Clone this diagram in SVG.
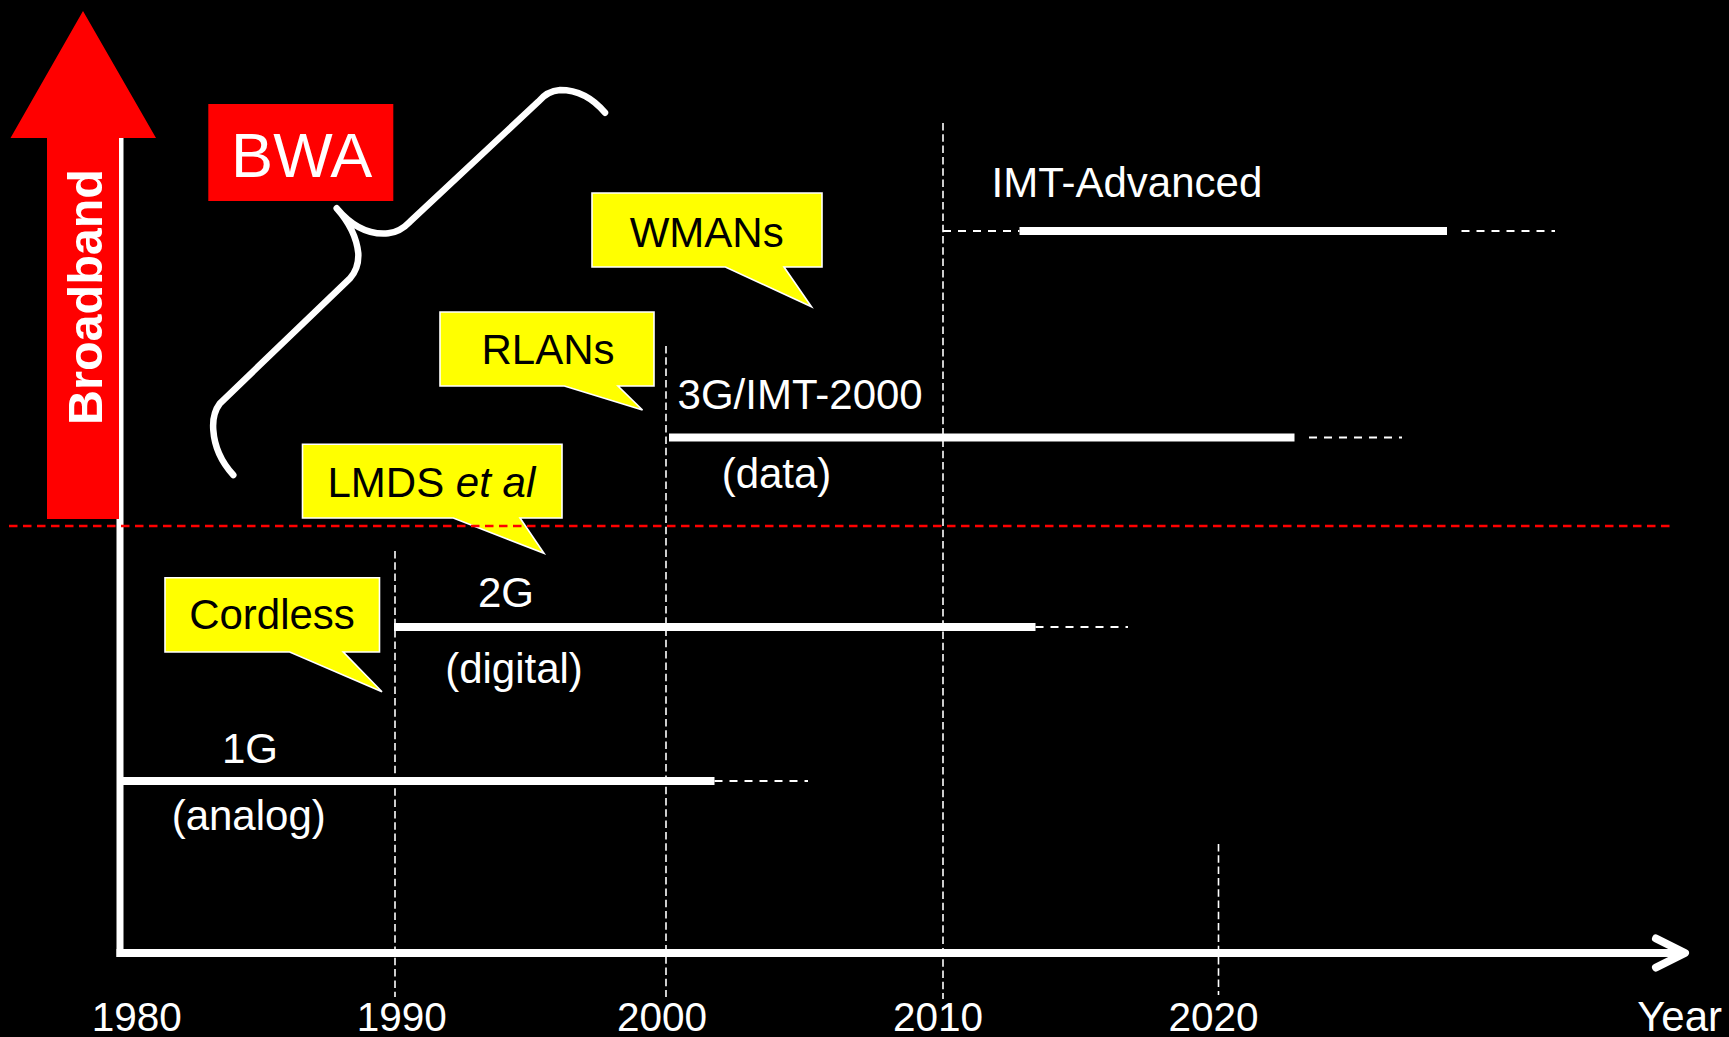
<svg xmlns="http://www.w3.org/2000/svg" width="1729" height="1037" viewBox="0 0 1729 1037">
  <style>
    .lbl { font-family: "Liberation Sans", Arial, sans-serif; font-size: 42px; fill: #ffffff; }
    .yr { font-family: "Liberation Sans", Arial, sans-serif; font-size: 40.5px; fill: #ffffff; text-anchor: middle; }
    .co { fill: #ffff00; stroke: #ffffff; stroke-width: 1.6; stroke-linejoin: miter; }
    .cot { font-family: "Liberation Sans", Arial, sans-serif; font-size: 42px; fill: #000000; }
    .vgrid { stroke: #ffffff; stroke-width: 1.6; stroke-dasharray: 7.5 3.8; fill: none; }
    .hext { stroke: #ffffff; stroke-width: 2; stroke-dasharray: 8 7; fill: none; }
    .bar { stroke: #ffffff; stroke-width: 8; fill: none; }
  </style>

  <rect x="0" y="0" width="1729" height="1037" fill="#000000"/>

  <!-- decade grid lines -->
  <g id="grid">
    <line class="vgrid" x1="395" y1="551" x2="395" y2="997"/>
    <line class="vgrid" x1="666" y1="346" x2="666" y2="997"/>
    <line class="vgrid" x1="943" y1="123" x2="943" y2="999"/>
    <line class="vgrid" x1="1218.5" y1="844" x2="1218.5" y2="995"/>
  </g>

  <!-- axes -->
  <g id="axes">
    <rect x="116.5" y="138" width="7" height="819" fill="#ffffff"/>
    <line x1="116.5" y1="953" x2="1682" y2="953" stroke="#ffffff" stroke-width="8"/>
    <polyline points="1656,938.5 1685,953 1656,967.5" fill="none" stroke="#ffffff" stroke-width="8" stroke-linecap="round" stroke-linejoin="round"/>
  </g>

  <!-- broadband arrow -->
  <g id="broadband-arrow">
    <polygon points="83,11 156,138 119,138 119,519 47,519 47,138 10.5,138" fill="#ff0000"/>
    <text transform="translate(101.7,297) rotate(-90)" font-family="Liberation Sans, Arial, sans-serif" font-size="48.5" font-weight="bold" fill="#ffffff" text-anchor="middle">Broadband</text>
  </g>

  <!-- generation bars with their dashed continuations -->
  <g id="connectors">
    <line class="bar" x1="119" y1="781" x2="714.5" y2="781"/>
    <line class="hext" x1="714.5" y1="781" x2="808" y2="781"/>

    <line class="bar" x1="394" y1="627" x2="1035.5" y2="627"/>
    <line class="hext" x1="1035.5" y1="627" x2="1128" y2="627"/>

    <line class="bar" x1="669" y1="437.5" x2="1294.5" y2="437.5"/>
    <line class="hext" x1="1309" y1="437.5" x2="1402" y2="437.5"/>

    <line class="hext" x1="943" y1="231" x2="1019.5" y2="231"/>
    <line class="bar" x1="1019.5" y1="231" x2="1447" y2="231"/>
    <line class="hext" x1="1461.5" y1="231" x2="1555" y2="231"/>
  </g>

  <!-- generation labels -->
  <g id="gen-1g">
    <text class="lbl" x="250" y="763" text-anchor="middle">1G</text>
    <text class="lbl" x="248.7" y="830" text-anchor="middle">(analog)</text>
  </g>
  <g id="gen-2g">
    <text class="lbl" x="506" y="606.7" text-anchor="middle">2G</text>
    <text class="lbl" x="514" y="683" text-anchor="middle">(digital)</text>
  </g>
  <g id="gen-3g">
    <text class="lbl" x="677.6" y="409">3G/IMT-2000</text>
    <text class="lbl" x="776.5" y="488" text-anchor="middle">(data)</text>
  </g>
  <g id="gen-imt-adv">
    <text class="lbl" x="991.5" y="196.7">IMT-Advanced</text>
  </g>

  <!-- callouts -->
  <g id="callout-wmans">
    <path class="co" d="M592 193 H822 V267 H784 L811.5 306.7 L725.4 267 H592 Z"/>
    <text class="cot" x="706.7" y="246.7" text-anchor="middle">WMANs</text>
  </g>
  <g id="callout-rlans">
    <path class="co" d="M440 312 H654 V386 H618 L642.5 410 L564.4 386 H440 Z"/>
    <text class="cot" x="548" y="364" text-anchor="middle">RLANs</text>
  </g>
  <g id="callout-lmds">
    <path class="co" d="M302.5 444.3 H562 V518 H520 L544 553.3 L453.3 518 H302.5 Z"/>
    <text class="cot" x="327.5" y="496.7">LMDS <tspan font-style="italic">et al</tspan></text>
  </g>
  <g id="callout-cordless">
    <path class="co" d="M165 577.7 H379.5 V652 H343.3 L382 691.7 L289.7 652 H165 Z"/>
    <text class="cot" x="272" y="629" text-anchor="middle">Cordless</text>
  </g>

  <!-- broadband threshold -->
  <line id="threshold" x1="9" y1="526" x2="1671" y2="526" stroke="#ff0000" stroke-width="2.4" stroke-dasharray="8.5 5.5"/>

  <!-- BWA label and brace -->
  <g id="bwa">
    <rect x="208.3" y="104" width="185" height="97" fill="#ff0000"/>
    <text x="301.7" y="176.7" font-family="Liberation Sans, Arial, sans-serif" font-size="63" fill="#ffffff" text-anchor="middle">BWA</text>
  </g>
  <g id="brace">
    <path d="M605 112.7 Q586 90 560 90 Q547 91 538.3 101.7 L410 221.7 Q400 232 388.3 233.3 Q360 236 336.7 208.3 Q356 230 358.3 253.3 Q359 268 350 278.3 L220 403.3 Q212 414 213.3 430 Q215 455 233.3 475" fill="none" stroke="#ffffff" stroke-width="6.5" stroke-linecap="round" stroke-linejoin="round"/>
  </g>

  <!-- year labels -->
  <g id="years">
    <text class="yr" x="136.7" y="1030.5">1980</text>
    <text class="yr" x="401.7" y="1030.5">1990</text>
    <text class="yr" x="662" y="1030.5">2000</text>
    <text class="yr" x="938" y="1030.5">2010</text>
    <text class="yr" x="1213.5" y="1030.5">2020</text>
    <text class="yr" x="1722" y="1030.5" style="text-anchor:end; font-size:42px">Year</text>
  </g>
</svg>
